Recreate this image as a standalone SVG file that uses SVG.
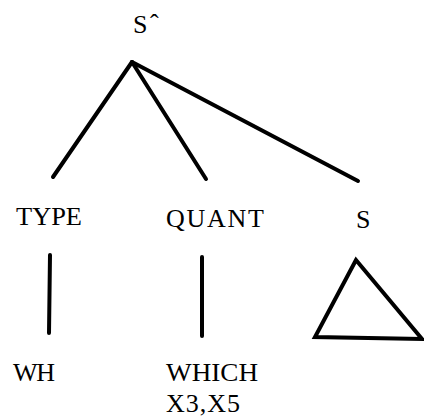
<svg xmlns="http://www.w3.org/2000/svg" width="424" height="419" viewBox="0 0 424 419">
<style>
text{font-family:"Liberation Serif","Times New Roman",serif;font-size:26px;fill:#000}
.e{stroke:#000;stroke-width:4;stroke-linecap:round;fill:none}
</style>
<rect width="424" height="419" fill="#fff"/>
<g id="root"><text x="133" y="33">S</text><text x="150" y="32" font-size="20">ˆ</text></g>
<g id="type"><text x="16" y="225" textLength="66" lengthAdjust="spacingAndGlyphs">TYPE</text></g>
<g id="quant"><text x="166" y="227" textLength="98" lengthAdjust="spacing">QUANT</text></g>
<g id="s"><text x="356" y="228">S</text></g>
<g id="wh"><text x="13" y="381" textLength="42" lengthAdjust="spacing">WH</text></g>
<g id="which"><text x="166" y="381" textLength="92" lengthAdjust="spacingAndGlyphs">WHICH</text><text x="166" y="412" font-size="25" textLength="74" lengthAdjust="spacing">X3,X5</text></g>
<g id="s-triangle"><polygon class="e" points="356,260 315,337 422,339" stroke-linejoin="miter"/></g>
<g id="connectors">
<line class="e" x1="132" y1="62" x2="53" y2="177"/>
<line class="e" x1="132" y1="62" x2="206" y2="179"/>
<line class="e" x1="132" y1="62" x2="358" y2="181"/>
<line class="e" x1="50" y1="255" x2="49" y2="333"/>
<line class="e" x1="202" y1="257" x2="202" y2="336"/>
</g>
</svg>
